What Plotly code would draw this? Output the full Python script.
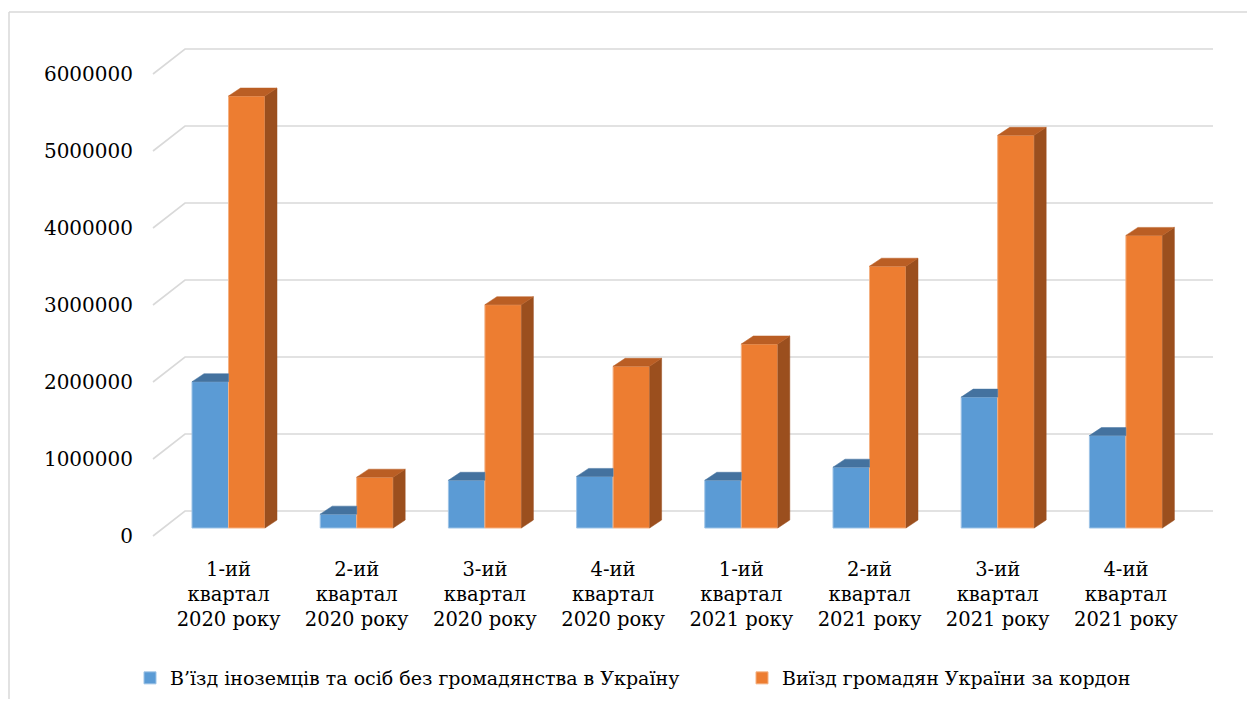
import plotly.graph_objects as go

# ---------------- data ----------------
categories = [
    "1-ий<br>квартал<br>2020 року",
    "2-ий<br>квартал<br>2020 року",
    "3-ий<br>квартал<br>2020 року",
    "4-ий<br>квартал<br>2020 року",
    "1-ий<br>квартал<br>2021 року",
    "2-ий<br>квартал<br>2021 року",
    "3-ий<br>квартал<br>2021 року",
    "4-ий<br>квартал<br>2021 року",
]
entry_foreigners = [1900000, 180000, 620000, 670000, 620000, 790000, 1700000, 1200000]
exit_citizens = [5610000, 660000, 2900000, 2100000, 2390000, 3400000, 5100000, 3800000]
series_names = [
    "В’їзд іноземців та осіб без громадянства в Україну",
    "Виїзд громадян України за кордон",
]
y_ticks = [0, 1000000, 2000000, 3000000, 4000000, 5000000, 6000000]

# ---------------- geometry / style (page pixel targets) ----------------
OFF = 8                       # default page body margin
PAGE_W, PAGE_H = 1255, 707
W, H = PAGE_W - 2 * OFF, PAGE_H - 2 * OFF
P_L, P_R, P_T, P_B = 150, 1220, 30, 545   # plot area in page pixels
plot_w = P_R - P_L
plot_h = P_B - P_T
PX_X = 128.2          # pixels per category
PX_Y = 77.0 / 1e6     # pixels per unit value
x0_px = 228.5         # pixel centre of first category
zero_px = 528.0       # pixel of value 0 at bar plane

x_range = [(P_L - x0_px) / PX_X, (P_R - x0_px) / PX_X]
y_range = [(zero_px - P_B) / PX_Y, (zero_px - P_T) / PX_Y]

bw = 36.5 / PX_X      # bar width in category units
dx = 12 / PX_X        # depth offset x
dy = 8 / PX_Y         # depth offset y
front_off = -8 / PX_Y
back_off = 17 / PX_Y
grid_front_x = (153 - x0_px) / PX_X
grid_back_x = (185 - x0_px) / PX_X
grid_right_x = (1213 - x0_px) / PX_X

blue, blue_top = "#5B9BD5", "#44729F"
orange, orange_top, orange_side = "#ED7D31", "#BA5E24", "#9B4F1E"
font_family = "DejaVu Serif"


def px_to_paper_x(px):
    return (px - P_L) / plot_w


def px_to_paper_y(py):
    return (P_B - py) / plot_h


xs = list(range(len(categories)))
fig = go.Figure()

# front faces
fig.add_trace(go.Bar(
    x=[i - bw / 2 for i in xs], y=entry_foreigners, width=bw, name=series_names[0],
    marker=dict(color=blue, line=dict(color="#9DC3E6", width=1)), legend="legend",
))
fig.add_trace(go.Bar(
    x=[i + bw / 2 for i in xs], y=exit_citizens, width=bw, name=series_names[1],
    marker=dict(color=orange, line=dict(color="#F4B183", width=1)), legend="legend2",
))

# top faces of blue bars (clipped by the orange bar in front of them)
for i, v in zip(xs, entry_foreigners):
    L, R = i - bw, i
    fig.add_trace(go.Scatter(
        x=[L, R, R, L + dx, L], y=[v, v, v + dy, v + dy, v],
        fill="toself", fillcolor=blue_top, mode="lines",
        line=dict(color=blue_top, width=0.5), showlegend=False, hoverinfo="skip"))

# side and top faces of orange bars
for i, v in zip(xs, exit_citizens):
    L, R = i, i + bw
    fig.add_trace(go.Scatter(
        x=[R, R + dx, R + dx, R, R], y=[0, dy, v + dy, v, 0],
        fill="toself", fillcolor=orange_side, mode="lines",
        line=dict(color=orange_side, width=0.5), showlegend=False, hoverinfo="skip"))
    fig.add_trace(go.Scatter(
        x=[L, R, R + dx, L + dx, L], y=[v, v, v + dy, v + dy, v],
        fill="toself", fillcolor=orange_top, mode="lines",
        line=dict(color=orange_top, width=0.5), showlegend=False, hoverinfo="skip"))

# gridlines (floor connector + back wall)
shapes = []
for t in y_ticks:
    shapes.append(dict(
        type="path", xref="x", yref="y", layer="below",
        path=f"M {grid_front_x},{t + front_off} L {grid_back_x},{t + back_off} L {grid_right_x},{t + back_off}",
        line=dict(color="#D9D9D9", width=1.6)))

# chart frame (top and left)
shapes.append(dict(type="line", xref="paper", yref="paper",
                   x0=px_to_paper_x(9), x1=px_to_paper_x(PAGE_W),
                   y0=px_to_paper_y(12), y1=px_to_paper_y(12),
                   line=dict(color="#D9D9D9", width=1.5)))
shapes.append(dict(type="line", xref="paper", yref="paper",
                   x0=px_to_paper_x(9), x1=px_to_paper_x(9),
                   y0=px_to_paper_y(12), y1=px_to_paper_y(PAGE_H),
                   line=dict(color="#D9D9D9", width=1.5)))

legend_common = dict(orientation="h", xanchor="left", yanchor="middle",
                     font=dict(family=font_family, size=19, color="black"),
                     bgcolor="rgba(0,0,0,0)", itemwidth=30)

fig.update_layout(
    width=W, height=H, autosize=False,
    margin=dict(l=P_L - OFF, r=W - (P_R - OFF), t=P_T - OFF, b=H - (P_B - OFF),
                autoexpand=False),
    paper_bgcolor="white", plot_bgcolor="white",
    barmode="overlay",
    shapes=shapes,
    font=dict(family=font_family, size=20, color="black"),
    xaxis=dict(range=x_range, tickvals=xs, ticktext=categories, showgrid=False,
               zeroline=False, showline=False, ticks="", ticklabelstandoff=10,
               automargin=False,
               tickfont=dict(family=font_family, size=19.5, color="black")),
    yaxis=dict(range=y_range, tickvals=[t + front_off for t in y_ticks],
               ticktext=[str(t) for t in y_ticks], showgrid=False, zeroline=False,
               showline=False, ticks="", ticklabelstandoff=16, automargin=False,
               tickfont=dict(family=font_family, size=20, color="black")),
    legend=dict(x=px_to_paper_x(130), y=px_to_paper_y(678), **legend_common),
    legend2=dict(x=px_to_paper_x(742), y=px_to_paper_y(678), **legend_common),
)

fig.write_html("out.html")
